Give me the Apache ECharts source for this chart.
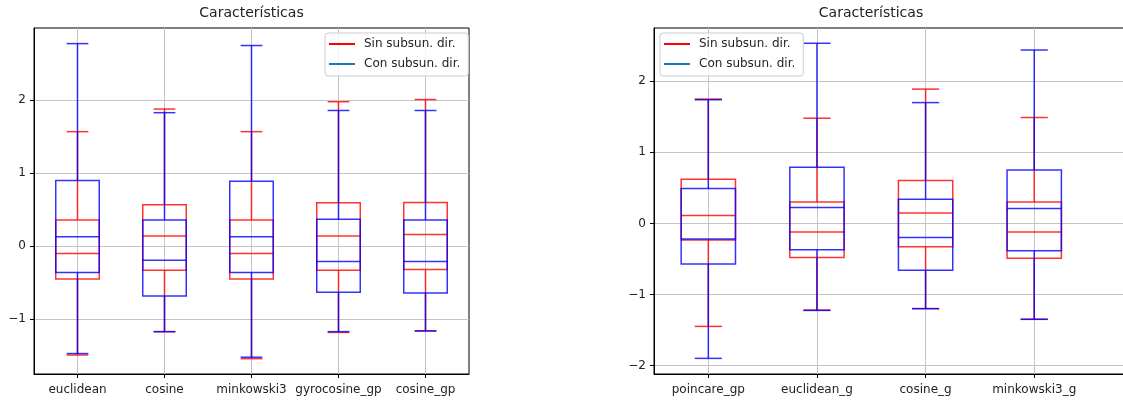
<!DOCTYPE html>
<html>
<head>
<meta charset="utf-8">
<script src="https://cdn.jsdelivr.net/npm/echarts@6/dist/echarts.min.js"></script>
<style>
  html, body { margin: 0; padding: 0; background: #fff; }
  #chart { width: 1123px; height: 403px; }
</style>
</head>
<body>
<div id="chart"></div>
<script>
// box stats per category: [whisker low, q1, median, q3, whisker high]
const leftCats = ['euclidean', 'cosine', 'minkowski3', 'gyrocosine_gp', 'cosine_gp']
const leftSin = [
  [-1.49, -0.45, -0.10, 0.36, 1.57],
  [-1.17, -0.33, 0.14, 0.57, 1.88],
  [-1.54, -0.45, -0.10, 0.36, 1.57],
  [-1.18, -0.33, 0.14, 0.595, 1.98],
  [-1.16, -0.32, 0.16, 0.60, 2.01]
]
const leftCon = [
  [-1.47, -0.36, 0.13, 0.90, 2.776],
  [-1.17, -0.68, -0.19, 0.36, 1.83],
  [-1.52, -0.36, 0.13, 0.89, 2.75],
  [-1.17, -0.63, -0.21, 0.37, 1.86],
  [-1.16, -0.64, -0.21, 0.36, 1.86]
]
const leftYTicks = [-1, 0, 1, 2]

const rightCats = ['poincare_gp', 'euclidean_g', 'cosine_g', 'minkowski3_g']
const rightSin = [
  [-1.45, -0.235, 0.11, 0.62, 1.75],
  [-1.22, -0.48, -0.12, 0.30, 1.48],
  [-1.20, -0.33, 0.145, 0.605, 1.89],
  [-1.35, -0.49, -0.12, 0.30, 1.49]
]
const rightCon = [
  [-1.90, -0.57, -0.22, 0.49, 1.74],
  [-1.225, -0.37, 0.225, 0.79, 2.535],
  [-1.20, -0.66, -0.20, 0.34, 1.70],
  [-1.35, -0.385, 0.21, 0.75, 2.44]
]
const rightYTicks = [-2, -1, 0, 1, 2]

const seriesNames = ['Sin subsun. dir.', 'Con subsun. dir.']
const titleText = 'Características'

const FONT = 'DejaVu Sans'
const TXT = '#222'

function boxItem(stroke) {
  return function (params, api) {
    const x = api.value(0)
    const lo = api.coord([x, api.value(1)])
    const q1 = api.coord([x, api.value(2)])
    const md = api.coord([x, api.value(3)])
    const q3 = api.coord([x, api.value(4)])
    const hi = api.coord([x, api.value(5)])
    const w = api.size([0.5, 0])[0]
    const cx = lo[0]
    const st = () => ({ stroke: stroke, lineWidth: 1.5, fill: 'none' })
    const ln = (x1, y1, x2, y2) => ({ type: 'line', shape: { x1, y1, x2, y2 }, style: st() })
    return {
      type: 'group',
      children: [
        { type: 'rect', shape: { x: cx - w / 2, y: q3[1], width: w, height: q1[1] - q3[1] }, style: st() },
        ln(cx - w / 2, md[1], cx + w / 2, md[1]),
        ln(cx, q1[1], cx, lo[1]),
        ln(cx, q3[1], cx, hi[1]),
        ln(cx - w / 4, lo[1], cx + w / 4, lo[1]),
        ln(cx - w / 4, hi[1], cx + w / 4, hi[1])
      ]
    }
  }
}

function toData(stats) {
  return stats.map((s, i) => [i + 1].concat(s))
}

function xAxis(idx, cats, max) {
  const pos = cats.map((c, i) => i + 1)
  return {
    type: 'value', gridIndex: idx, min: 0.5, max: max,
    axisLine: { show: true, onZero: false, lineStyle: { color: '#000', width: 1 } },
    axisTick: { show: true, length: 4, customValues: pos, lineStyle: { color: '#000' } },
    axisLabel: {
      margin: 10, fontFamily: FONT, fontSize: 12, color: TXT, customValues: pos,
      formatter: v => cats[Math.round(v) - 1] || ''
    },
    splitLine: { show: true, lineStyle: { color: '#c4c4c4', width: 1 } }
  }
}

function yAxis(idx, min, max, ticks) {
  return {
    type: 'value', gridIndex: idx, min: min, max: max,
    axisLine: { show: true, onZero: false, lineStyle: { color: '#000', width: 1 } },
    axisTick: { show: true, length: 4, customValues: ticks, lineStyle: { color: '#000' } },
    axisLabel: {
      margin: 8, fontFamily: FONT, fontSize: 12, color: TXT, customValues: ticks,
      formatter: v => {
        const r = Math.round(v)
        return r < 0 ? '\u2212' + Math.abs(r) : String(r)
      }
    },
    splitLine: { show: true, lineStyle: { color: '#c4c4c4', width: 1 } }
  }
}

function legend(left, top) {
  return {
    left: left, top: top, orient: 'vertical',
    data: seriesNames,
    icon: 'rect', itemWidth: 26, itemHeight: 2, itemGap: 6,
    padding: [4, 8, 5, 4],
    backgroundColor: 'rgba(255,255,255,0.8)',
    borderColor: '#ccc', borderWidth: 1, borderRadius: 3,
    textStyle: { fontFamily: FONT, fontSize: 12, color: TXT, lineHeight: 14, padding: [0, 0, 0, 4] }
  }
}

const chart = echarts.init(document.getElementById('chart'), null, { renderer: 'canvas' })
chart.setOption({
  animation: false,
  backgroundColor: '#fff',
  title: [
    { text: titleText, left: 251.5, top: 6, textAlign: 'center', padding: 0,
      textStyle: { fontFamily: FONT, fontSize: 14, fontWeight: 'normal', color: TXT } },
    { text: titleText, left: 871, top: 6, textAlign: 'center', padding: 0,
      textStyle: { fontFamily: FONT, fontSize: 14, fontWeight: 'normal', color: TXT } }
  ],
  legend: [legend(325, 33), legend(660, 33)],
  grid: [
    { left: 34, top: 28, width: 435, height: 346, outerBoundsMode: 'none', show: true,
      borderColor: '#000', borderWidth: 1, backgroundColor: 'transparent' },
    { left: 654, top: 28, width: 478, height: 346, outerBoundsMode: 'none', show: true,
      borderColor: '#000', borderWidth: 1, backgroundColor: 'transparent' }
  ],
  xAxis: [xAxis(0, leftCats, 5.5), xAxis(1, rightCats, 4.9)],
  yAxis: [yAxis(0, -1.75, 2.99, leftYTicks), yAxis(1, -2.12, 2.75, rightYTicks)],
  series: [
    { type: 'custom', name: seriesNames[0], xAxisIndex: 0, yAxisIndex: 0, itemStyle: { color: 'red' },
      renderItem: boxItem('rgba(255,0,0,0.8)'), encode: { x: 0, y: [1, 2, 3, 4, 5] }, data: toData(leftSin) },
    { type: 'custom', name: seriesNames[1], xAxisIndex: 0, yAxisIndex: 0, itemStyle: { color: '#1f77b4' },
      renderItem: boxItem('rgba(0,0,255,0.8)'), encode: { x: 0, y: [1, 2, 3, 4, 5] }, data: toData(leftCon) },
    { type: 'custom', name: seriesNames[0], xAxisIndex: 1, yAxisIndex: 1, itemStyle: { color: 'red' },
      renderItem: boxItem('rgba(255,0,0,0.8)'), encode: { x: 0, y: [1, 2, 3, 4, 5] }, data: toData(rightSin) },
    { type: 'custom', name: seriesNames[1], xAxisIndex: 1, yAxisIndex: 1, itemStyle: { color: '#1f77b4' },
      renderItem: boxItem('rgba(0,0,255,0.8)'), encode: { x: 0, y: [1, 2, 3, 4, 5] }, data: toData(rightCon) }
  ]
})
</script>
</body>
</html>
